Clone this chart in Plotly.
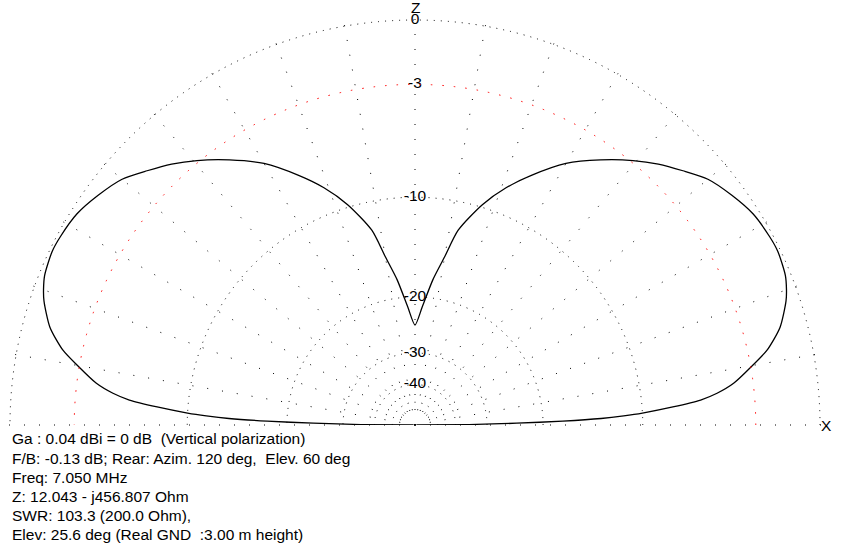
import plotly.graph_objects as go

# elevation pattern, 0 = front horizon (X), 90 = zenith (Z), 180 = rear horizon
THETA = [0, 0.5, 1, 1.5, 2, 2.5, 3, 4, 5, 6, 7.5, 10, 12, 15, 18.5, 20, 22, 25.6, 28, 32,
         36, 40, 43.5, 47, 50.5, 55, 60, 65, 69, 73, 77.5, 80, 83, 86.5, 90,
         93.5, 97, 100, 102.5, 107, 111, 115, 120, 125, 129.5, 133, 136.5, 140, 144, 148,
         152, 154.4, 158, 160, 161.5, 165, 168, 170, 172.5, 174, 175, 176, 177, 177.5, 178,
         178.5, 179, 179.5, 180]
GAIN_DB = [-99, -35, -24, -17.5, -13.5, -11.5, -10, -7.8, -6, -5, -4, -2.9, -2.05, -1.2, -0.6, -0.42, -0.24, -0.12, -0.15, -0.28,
           -0.6, -1.0, -1.6, -2.2, -2.9, -3.9, -5.1, -6.7, -8.1, -9.8, -12.3, -15.0, -17.7, -21.4, -24.3,
           -21.4, -17.7, -15.0, -12.3, -9.8, -8.1, -6.7, -5.1, -3.9, -2.9, -2.2, -1.6, -1.0, -0.6, -0.28,
           -0.15, -0.12, -0.24, -0.42, -0.6, -1.2, -2.05, -2.9, -4, -5, -6, -7.8, -10, -11.5, -13.5,
           -17.5, -24, -35, -99]

RING_DB = [0, -10, -20, -30, -40, -50]
RED_RING_DB = [-3]
LABEL_DB = [0, -3, -10, -20, -30, -40]

INFO_LINES = [
    "Ga : 0.04 dBi = 0 dB  (Vertical polarization)",
    "F/B: -0.13 dB; Rear: Azim. 120 deg,  Elev. 60 deg",
    "Freq: 7.050 MHz",
    "Z: 12.043 - j456.807 Ohm",
    "SWR: 103.3 (200.0 Ohm),",
    "Elev: 25.6 deg (Real GND  :3.00 m height)",
]

W, H = 847, 554
FONT = "Liberation Sans, Arial, sans-serif"
CX, CY, R0 = 415, 425, 405   # centre and 0 dB radius in pixels
R_MAX = 1.004                # a hair past 0 dB so that ring is drawn


def to_r(db):
    # MMANA log scale: radius ~ 10^(dB/40)
    return 10 ** (db / 40)


def px(x, y):
    return x / W, (H - y) / H


rp = R0 * R_MAX
domain = dict(x=[(CX - rp) / W, (CX + rp) / W], y=[(H - CY) / H, (H - CY + rp) / H])

fig = go.Figure()
fig.add_trace(go.Scatterpolar(
    r=[to_r(g) for g in GAIN_DB], theta=THETA, mode="lines",
    line=dict(color="black", width=1.3, shape="spline", smoothing=0.7),
    subplot="polar", cliponaxis=False,
))
fig.add_trace(go.Scatterpolar(
    r=[to_r(d) for d in LABEL_DB], theta=[90] * len(LABEL_DB), mode="text",
    text=[str(d) for d in LABEL_DB], textfont=dict(family=FONT, size=15.5, color="black"),
    subplot="polar", cliponaxis=False,
))
fig.add_trace(go.Scatterpolar(r=[], theta=[], subplot="polar2"))

fig.update_layout(
    width=W, height=H,
    margin=dict(l=0, r=0, t=0, b=0),
    paper_bgcolor="white",
    showlegend=False,
    font=dict(family=FONT, size=15.5, color="black"),
    polar=dict(
        domain=domain, sector=[0, 180], bgcolor="rgba(0,0,0,0)",
        radialaxis=dict(range=[0, R_MAX], tickvals=[to_r(d) for d in RING_DB], showticklabels=False,
                        ticks="", showline=False, gridcolor="black", gridwidth=1.2, griddash="1px,6px"),
        angularaxis=dict(dtick=10, showticklabels=False, ticks="", showline=False,
                         gridcolor="black", gridwidth=1.2, griddash="1px,14px"),
    ),
    polar2=dict(
        domain=domain, sector=[0, 180], bgcolor="rgba(0,0,0,0)",
        radialaxis=dict(range=[0, R_MAX], tickvals=[to_r(d) for d in RED_RING_DB], showticklabels=False,
                        ticks="", showline=False, gridcolor="red", gridwidth=1.4, griddash="1.5px,10px"),
        angularaxis=dict(showticklabels=False, ticks="", showline=False, showgrid=False),
    ),
)

x, y = px(415, 8)
fig.add_annotation(text="Z", x=x, y=y, xref="paper", yref="paper",
                   showarrow=False, xanchor="center", yanchor="middle")
x, y = px(826, 425)
fig.add_annotation(text="X", x=x, y=y, xref="paper", yref="paper",
                   showarrow=False, xanchor="center", yanchor="middle")
for i, line in enumerate(INFO_LINES):
    x, y = px(10, 439 + 19 * i)
    fig.add_annotation(text=line, x=x, y=y, xref="paper", yref="paper",
                       showarrow=False, xanchor="left", yanchor="middle")

# drop the browser's default 8px body margin so the figure sits at the page corner
fig.write_html("out.html", config={"displayModeBar": False},
               post_script="document.body.style.margin = '0';")
